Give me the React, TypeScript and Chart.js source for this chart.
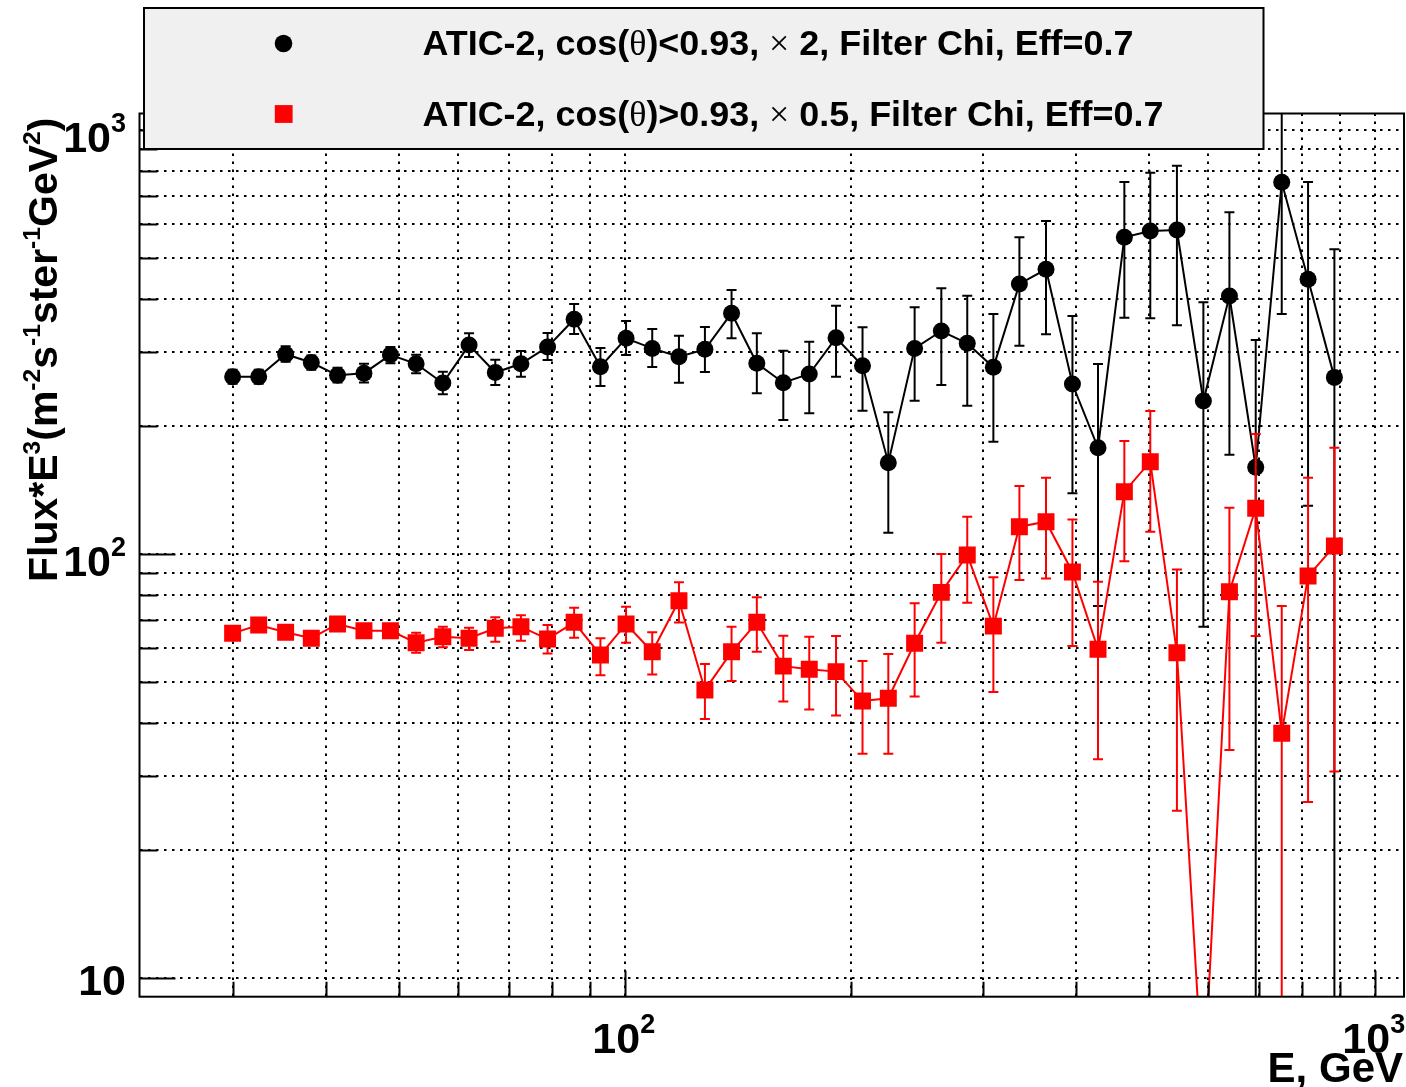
import React, { useEffect, useRef } from 'react';
import { Chart, registerables } from 'chart.js';

Chart.register(...registerables);

// ---------- data ----------
const energies = [30.0, 32.5, 35.3, 38.2, 41.4, 44.9, 48.7, 52.7, 57.2, 62.0, 67.2, 72.7, 78.9, 85.6, 92.8,
  100.4, 108.8, 118.1, 127.9, 138.8, 150.0, 162.7, 176.2, 191.3, 207.5, 224.6, 243.5, 264.3, 286.2, 310.1,
  335.9, 364.5, 395.3, 427.6, 463.6, 502.0, 544.8, 590.9, 640.1, 693.9, 751.6, 814.9, 883.5];

const blackFlux = [262, 262, 296, 283, 264, 267, 295, 281, 253, 311, 268, 281, 308, 358, 276.5,
  322.6, 305.5, 292, 303.9, 369.7, 281.7, 253.5, 265.8, 323.6, 278, 164.2, 305.5, 335.7, 314, 275.6,
  433.5, 469.5, 251.7, 178.1, 558.4, 577.8, 581, 229.5, 405.9, 160.2, 752.9, 444.7, 261];
const blackLow = [252, 252, 284, 272, 254, 254, 282, 267, 238, 291.5, 250.4, 261.9, 286.8, 330.3, 249,
  294.6, 276, 253.5, 268.7, 322.6, 239.4, 207, 214.7, 261.9, 217.8, 112.2, 229.9, 250.4, 223.8, 184.1,
  309.9, 329.8, 139.1, 75.4, 360.8, 359.6, 346.2, 67.4, 171.5, 1, 368.2, 130, 1];
const blackHigh = [272, 272, 309, 294, 275, 281, 308, 295, 269, 331.6, 287.4, 301.2, 332.1, 388.6, 306,
  354.4, 339.4, 327.3, 343.1, 419.4, 331.6, 301.7, 316.7, 385.1, 342.6, 215.9, 381.8, 423.4, 406.7, 368.2,
  558.4, 610.2, 364.2, 280.6, 754.2, 793.2, 823.9, 392.3, 639.7, 319.7, 1200, 754, 523.1];

const redFlux = [65.0, 68.0, 65.4, 63.3, 68.4, 65.9, 65.9, 61.8, 63.8, 63.3, 66.8, 67.4, 63.0, 69.0, 57.8,
  68.4, 58.8, 77.6, 47.8, 58.8, 69.0, 54.4, 53.5, 52.8, 45.0, 45.7, 61.6, 81.2, 99.5, 67.6,
  116, 119.2, 90.7, 59.6, 140.3, 165.1, 58.5, 5.3, 81.5, 128.2, 37.8, 88.7, 104.4];
const redLow = [63.1, 66.0, 63.4, 61.4, 66.3, 63.9, 63.9, 58.5, 60.3, 59.4, 62.1, 62.4, 58.3, 63.5, 51.8,
  61.8, 52.0, 68.9, 40.8, 50.2, 58.8, 44.9, 43.0, 41.6, 33.8, 33.8, 46.1, 61.8, 76.8, 47.3,
  86.8, 87.6, 60.7, 32.8, 96.1, 112.9, 24.8, null, 34.5, 64.1, 1, 26.0, 30.7];
const redHigh = [67.0, 70.0, 67.4, 65.2, 70.5, 67.9, 67.9, 65.2, 67.4, 67.0, 70.9, 71.7, 68.0, 74.7, 63.3,
  75.1, 65.4, 85.8, 55.0, 67.4, 79.1, 64.2, 63.8, 64.1, 55.9, 58.1, 76.5, 100, 122.4, 88.1,
  144.7, 151.4, 120.7, 86.0, 184.7, 217.4, 92.0, null, 128.6, 191.9, 75.4, 151.4, 178.1];

const legendLabels = [
  'ATIC-2, cos(θ)<0.93, × 2, Filter Chi, Eff=0.7',
  'ATIC-2, cos(θ)>0.93, × 0.5, Filter Chi, Eff=0.7',
];

const xAxisTitle = 'E, GeV';
const yAxisTitleParts: [string, boolean][] = [
  ['Flux*E', false], ['3', true], ['(m', false], ['-2', true], ['s', false], ['-1', true],
  ['ster', false], ['-1', true], ['GeV', false], ['2', true], [')', false],
];

const X_MIN = 22.54;
const X_MAX = 1094;
const Y_MIN = 9.035;
const Y_MAX = 1094;

const xGridValues = [30, 40, 50, 60, 70, 80, 90, 100, 200, 300, 400, 500, 600, 700, 800, 900, 1000];
const yGridValues = [10, 20, 30, 40, 50, 60, 70, 80, 90, 100, 200, 300, 400, 500, 600, 700, 800, 900, 1000];
const xMajorValues = [100, 1000];
const yMajorValues = [10, 100, 1000];
const xLabelValues = [100, 1000];
const xLabelExps = ['2', '3'];
const yLabelValues = [10, 100, 1000];
const yLabelExps = ['', '2', '3'];

// ---------- styling ----------
const SANS = '"Liberation Sans", Arial, Helvetica, sans-serif';
const SERIF = '"Liberation Serif", "Times New Roman", serif';

function drawRich(ctx: CanvasRenderingContext2D, text: string, x: number, y: number, size: number) {
  let cx = x;
  const parts = text.split(/([θ×])/);
  for (const p of parts) {
    if (!p) continue;
    const sym = p === 'θ' || p === '×';
    ctx.font = sym ? `${size}px ${SERIF}` : `bold ${size}px ${SANS}`;
    ctx.fillText(p, cx, y);
    cx += ctx.measureText(p).width;
  }
  return cx - x;
}

function drawPow(ctx: CanvasRenderingContext2D, exp: string, anchorX: number, baseline: number, align: 'center' | 'right') {
  const baseSize = 43;
  const supSize = 27;
  ctx.font = `bold ${baseSize}px ${SANS}`;
  const wb = ctx.measureText('10').width;
  ctx.font = `bold ${supSize}px ${SANS}`;
  const we = exp ? ctx.measureText(exp).width : 0;
  const total = wb + we;
  const left = align === 'center' ? anchorX - total / 2 : anchorX - total;
  ctx.textAlign = 'left';
  ctx.textBaseline = 'alphabetic';
  ctx.font = `bold ${baseSize}px ${SANS}`;
  ctx.fillText('10', left, baseline);
  if (exp) {
    ctx.font = `bold ${supSize}px ${SANS}`;
    ctx.fillText(exp, left + wb, baseline - 20);
  }
}

const rootPlugin = {
  id: 'rootStyle',
  beforeDraw(chart: any) {
    const ctx = chart.ctx as CanvasRenderingContext2D;
    ctx.save();
    ctx.fillStyle = '#ffffff';
    ctx.fillRect(0, 0, chart.width, chart.height);
    ctx.restore();
  },
  beforeDatasetDraw(chart: any, args: any) {
    const ds = chart.data.datasets[args.index];
    const lows: (number | null)[] = ds.errLow;
    const highs: (number | null)[] = ds.errHigh;
    if (!lows) return;
    const xs = chart.scales.x;
    const ys = chart.scales.y;
    const area = chart.chartArea;
    const ctx = chart.ctx as CanvasRenderingContext2D;
    ctx.save();
    ctx.beginPath();
    ctx.rect(area.left, area.top, area.right - area.left, area.bottom - area.top);
    ctx.clip();
    ctx.strokeStyle = ds.borderColor;
    ctx.lineWidth = 2;
    const cap = 5;
    for (let i = 0; i < energies.length; i++) {
      const lo = lows[i];
      const hi = highs[i];
      if (lo == null || hi == null) continue;
      const x = xs.getPixelForValue(energies[i]);
      const yl = ys.getPixelForValue(lo);
      const yh = ys.getPixelForValue(hi);
      ctx.beginPath();
      ctx.moveTo(x, yl);
      ctx.lineTo(x, yh);
      ctx.moveTo(x - cap, yl);
      ctx.lineTo(x + cap, yl);
      ctx.moveTo(x - cap, yh);
      ctx.lineTo(x + cap, yh);
      ctx.stroke();
    }
    ctx.restore();
  },
  afterDraw(chart: any) {
    const ctx = chart.ctx as CanvasRenderingContext2D;
    const area = chart.chartArea;
    const xs = chart.scales.x;
    const ys = chart.scales.y;
    ctx.save();
    // frame
    ctx.strokeStyle = '#000';
    ctx.lineWidth = 2;
    ctx.strokeRect(area.left, area.top, area.right - area.left, area.bottom - area.top);
    // y ticks (inward)
    ctx.beginPath();
    for (const v of yGridValues) {
      const y = Math.round(ys.getPixelForValue(v)) + 0.5;
      const len = yMajorValues.includes(v) ? 36 : 18;
      ctx.moveTo(area.left, y);
      ctx.lineTo(area.left + len, y);
    }
    // x ticks (inward)
    for (const v of xGridValues) {
      const x = Math.round(xs.getPixelForValue(v)) + 0.5;
      const len = xMajorValues.includes(v) ? 26 : 15;
      ctx.moveTo(x, area.bottom);
      ctx.lineTo(x, area.bottom - len);
    }
    ctx.lineWidth = 2;
    ctx.stroke();

    // tick labels
    ctx.fillStyle = '#000';
    xLabelValues.forEach((v, i) => {
      drawPow(ctx, xLabelExps[i], xs.getPixelForValue(v) - 1, 1053, 'center');
    });
    yLabelValues.forEach((v, i) => {
      const y = ys.getPixelForValue(v);
      const exp = yLabelExps[i];
      drawPow(ctx, exp, 126, exp ? y + 21.5 : y + 17, 'right');
    });

    // x axis title
    ctx.font = `bold 42px ${SANS}`;
    ctx.textAlign = 'right';
    ctx.fillText(xAxisTitle, 1403, 1081.5);

    // y axis title (rotated)
    ctx.save();
    ctx.translate(57, 582);
    ctx.rotate(-Math.PI / 2);
    ctx.textAlign = 'left';
    let cx = 0;
    const base = 41;
    for (const [t, sup] of yAxisTitleParts) {
      ctx.font = `bold ${sup ? base * 0.6 : base}px ${SANS}`;
      ctx.fillText(t, cx, sup ? -17 : 0);
      cx += ctx.measureText(t).width;
    }
    ctx.restore();

    // legend box
    const lx = 144, ly = 8, lw = 1263.5 - 144, lh = 149 - 8;
    ctx.fillStyle = '#f0f0f0';
    ctx.fillRect(lx, ly, lw, lh);
    ctx.strokeStyle = '#000';
    ctx.lineWidth = 2;
    ctx.strokeRect(lx, ly, lw, lh);
    // markers
    ctx.fillStyle = '#000';
    ctx.beginPath();
    ctx.arc(283.5, 43.5, 8.8, 0, Math.PI * 2);
    ctx.fill();
    ctx.fillStyle = '#ff0000';
    ctx.fillRect(283.7 - 8.9, 114 - 8.9, 17.8, 17.8);
    // texts
    ctx.fillStyle = '#000';
    ctx.textAlign = 'left';
    drawRich(ctx, legendLabels[0], 422.5, 54.5, 35.9);
    drawRich(ctx, legendLabels[1], 422.5, 125.7, 35.9);
    ctx.restore();
  },
};

export default function App() {
  const ref = useRef<HTMLCanvasElement>(null);
  useEffect(() => {
    const canvas = ref.current;
    if (!canvas) return;
    const chart = new Chart(canvas, {
      type: 'line',
      data: {
        datasets: [
          {
            label: legendLabels[1],
            data: energies.map((e, i) => ({ x: e, y: redFlux[i] })),
            borderColor: '#ff0000',
            backgroundColor: '#ff0000',
            borderWidth: 2,
            pointStyle: 'rect',
            pointRadius: 12,
            pointBorderWidth: 0,
            pointBackgroundColor: '#ff0000',
            tension: 0,
            errLow: redLow,
            errHigh: redHigh,
          } as any,
          {
            label: legendLabels[0],
            data: energies.map((e, i) => ({ x: e, y: blackFlux[i] })),
            borderColor: '#000000',
            backgroundColor: '#000000',
            borderWidth: 2,
            pointStyle: 'circle',
            pointRadius: 8.5,
            pointBorderWidth: 0,
            pointBackgroundColor: '#000000',
            tension: 0,
            errLow: blackLow,
            errHigh: blackHigh,
          } as any,
        ],
      },
      options: {
        responsive: false,
        animation: false,
        events: [],
        layout: { autoPadding: false, padding: { left: 139.5, top: 113.5, right: 2, bottom: 90.3 } },
        scales: {
          x: {
            type: 'logarithmic',
            min: X_MIN,
            max: X_MAX,
            ticks: { display: false },
            grid: { color: '#000', lineWidth: 2, drawTicks: false },
            border: { display: false, dash: [2.5, 5.5] },
            afterBuildTicks: (s: any) => {
              s.ticks = xGridValues.map((v) => ({ value: v }));
            },
          },
          y: {
            type: 'logarithmic',
            min: Y_MIN,
            max: Y_MAX,
            ticks: { display: false },
            grid: { color: '#000', lineWidth: 2, drawTicks: false },
            border: { display: false, dash: [2.5, 5.5] },
            afterBuildTicks: (s: any) => {
              s.ticks = yGridValues.map((v) => ({ value: v }));
            },
          },
        },
        plugins: {
          legend: { display: false },
          tooltip: { enabled: false },
        },
      },
      plugins: [rootPlugin],
    });
    return () => chart.destroy();
  }, []);

  return (
    <div style={{ position: 'absolute', left: 0, top: 0, width: 1406, height: 1087, background: '#fff' }}>
      <canvas ref={ref} width={1406} height={1087} style={{ display: 'block', width: 1406, height: 1087 }} />
    </div>
  );
}
